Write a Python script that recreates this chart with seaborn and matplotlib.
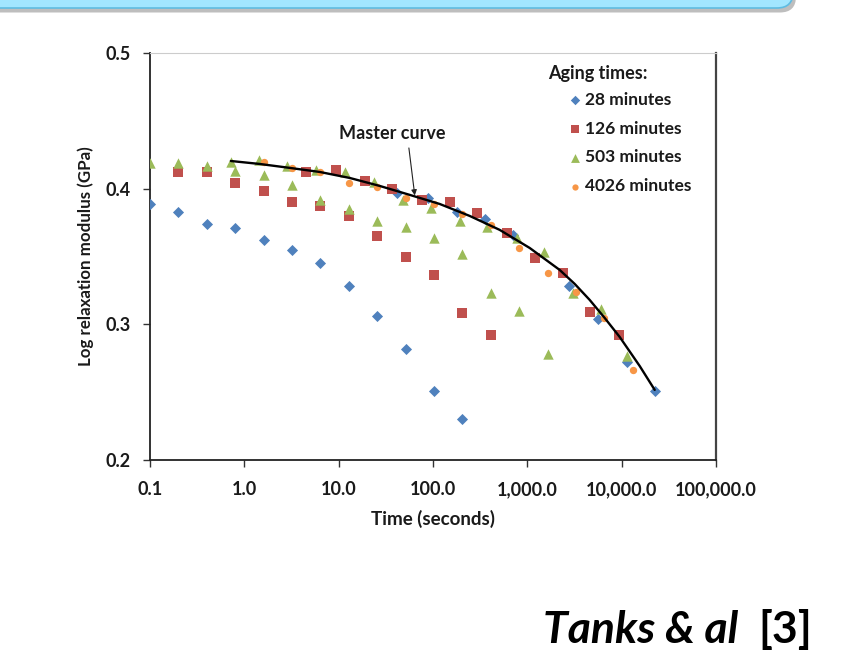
import numpy as np
import pandas as pd
import matplotlib
matplotlib.use("Agg")
import matplotlib.pyplot as plt
import seaborn as sns
from matplotlib.patches import FancyBboxPatch
from matplotlib.ticker import FixedLocator, FixedFormatter, NullLocator

sns.set_theme(style="white")
plt.rcParams['font.family'] = ['Lato', 'DejaVu Sans']

# ---------------- data ----------------
series_names = ["28 minutes", "126 minutes", "503 minutes", "4026 minutes"]

# 28 minutes: measured curve + shifted points on master curve
t28 = [0.1, 0.2, 0.4, 0.8, 1.6, 3.2, 6.4, 12.8, 25.6, 51.2, 102.4, 204.8,
       41.4, 88.1, 179, 354, 700, 2747, 5568, 11300, 22370]
g28 = [0.389, 0.383, 0.374, 0.371, 0.362, 0.355, 0.345, 0.328, 0.306, 0.282, 0.251, 0.230,
       0.397, 0.393, 0.383, 0.378, 0.366, 0.328, 0.304, 0.272, 0.251]

# 126 minutes
t126 = [0.2, 0.4, 0.8, 1.6, 3.2, 6.4, 12.8, 25.6, 51.2, 102.4, 204.8, 409.6,
        4.5, 9.33, 19.0, 36.6, 76.1, 151, 291, 605, 1197, 2371, 4581, 9290]
g126 = [0.412, 0.412, 0.404, 0.398, 0.390, 0.387, 0.380, 0.365, 0.350, 0.336, 0.308, 0.292,
        0.412, 0.414, 0.406, 0.400, 0.392, 0.390, 0.382, 0.367, 0.349, 0.338, 0.309, 0.292]

# 503 minutes
t503 = [0.1, 0.2, 0.4, 0.8, 1.6, 3.2, 6.4, 12.8, 25.6, 51.2, 102.4, 204.8, 409.6, 819.2, 1638.4,
        0.72, 1.43, 2.83, 5.73, 11.6, 23.6, 47.9, 94.8, 192, 372, 773, 1493, 3027, 5998, 11300]
g503 = [0.419, 0.419, 0.417, 0.413, 0.410, 0.403, 0.392, 0.385, 0.376, 0.372, 0.364, 0.352, 0.323, 0.310, 0.278,
        0.420, 0.421, 0.417, 0.414, 0.412, 0.405, 0.392, 0.386, 0.376, 0.372, 0.364, 0.353, 0.323, 0.311, 0.277]

# 4026 minutes (reference curve)
t4026 = [1.6, 3.2, 6.4, 12.8, 25.6, 51.2, 102.4, 204.8, 409.6, 819.2, 1638.4, 3276.8, 6553.6, 13107.2]
g4026 = [0.420, 0.415, 0.412, 0.404, 0.401, 0.393, 0.389, 0.381, 0.373, 0.356, 0.338, 0.324, 0.305, 0.266]

# master curve
t_master = [0.72, 1.46, 3.04, 6.32, 13.1, 27.3, 56.8, 118, 245, 510, 1059, 2203,
            3177, 4581, 6607, 9527, 15520, 22390]
g_master = [0.4204, 0.4182, 0.4153, 0.4123, 0.4079, 0.4020, 0.3954, 0.3887, 0.3799,
            0.3696, 0.3563, 0.3401, 0.3298, 0.3180, 0.3047, 0.2907, 0.2693, 0.2517]

x_ticks = [0.1, 1, 10, 100, 1000, 10000, 100000]
x_tick_labels = ["0.1", "1.0", "10.0", "100.0", "1,000.0", "10,000.0", "100,000.0"]
y_ticks = [0.2, 0.3, 0.4, 0.5]
y_tick_labels = ["0.2", "0.3", "0.4", "0.5"]

colors = {"28 minutes": "#4F81BD", "126 minutes": "#C0504D",
          "503 minutes": "#9BBB59", "4026 minutes": "#F79646"}
markers = {"28 minutes": "D", "126 minutes": "s", "503 minutes": "^", "4026 minutes": "o"}
sizes = {"28 minutes": 32, "126 minutes": 50, "503 minutes": 56, "4026 minutes": 28}

frames = []
for name, t, g in [("28 minutes", t28, g28), ("126 minutes", t126, g126),
                   ("503 minutes", t503, g503), ("4026 minutes", t4026, g4026)]:
    frames.append(pd.DataFrame({"time": t, "modulus": g, "series": name}))
df = pd.concat(frames, ignore_index=True)
master = pd.DataFrame({"time": t_master, "modulus": g_master})

# ---------------- figure ----------------
W, H = 861, 667
fig = plt.figure(figsize=(W / 100, H / 100), dpi=100)
fig.patch.set_facecolor("white")

# slide title box (cut off at top)
shadow = FancyBboxPatch((-0.3 + 0.03, 6.59 - 0.045), 8.23, 1.0,
                        boxstyle="round,pad=0,rounding_size=0.16",
                        transform=fig.dpi_scale_trans, facecolor="#8a8a8a",
                        edgecolor="none", alpha=0.55, zorder=0)
box = FancyBboxPatch((-0.3, 6.59), 8.23, 1.0,
                     boxstyle="round,pad=0,rounding_size=0.16",
                     transform=fig.dpi_scale_trans, facecolor="#A2E6FF",
                     edgecolor="#5FBCE2", linewidth=1.2, zorder=1)
fig.patches.extend([shadow, box])

ax = fig.add_axes([150 / W, 1 - 460 / H, (716 - 150) / W, (460 - 53) / H])
ax.set_facecolor("white")

# master curve
sns.lineplot(data=master, x="time", y="modulus", color="black", lw=1.7,
             ax=ax, zorder=4, estimator=None, sort=False)

for name in series_names:
    sub = df[df["series"] == name]
    sns.scatterplot(data=sub, x="time", y="modulus", marker=markers[name],
                    color=colors[name], s=sizes[name], linewidth=0, ax=ax,
                    zorder=3, label=name)

ax.set_xscale("log")
ax.set_xlim(0.1, 100000)
ax.set_ylim(0.2, 0.5)
ax.xaxis.set_major_locator(FixedLocator(x_ticks))
ax.xaxis.set_major_formatter(FixedFormatter(x_tick_labels))
ax.xaxis.set_minor_locator(NullLocator())
ax.yaxis.set_major_locator(FixedLocator(y_ticks))
ax.yaxis.set_major_formatter(FixedFormatter(y_tick_labels))

for lab in ax.get_xticklabels() + ax.get_yticklabels():
    lab.set_fontsize(13)
    lab.set_fontweight("bold")
    lab.set_color("#1a1a1a")
ax.tick_params(axis="x", which="major", direction="out", length=5,
               width=1.0, color="#333333", pad=10, bottom=True)
ax.tick_params(axis="y", which="major", direction="out", length=5,
               width=1.0, color="#333333", pad=9, left=True)

for side in ["left", "bottom"]:
    ax.spines[side].set_color("#222222")
    ax.spines[side].set_linewidth(1.3)
ax.spines["right"].set_color("#444444")
ax.spines["right"].set_linewidth(1.6)
ax.spines["top"].set_color("#cccccc")
ax.spines["top"].set_linewidth(0.8)

ax.set_xlabel("Time (seconds)", fontsize=13.5, fontweight="bold", color="#1a1a1a", labelpad=9)
ax.set_ylabel("Log relaxation modulus (GPa)", fontsize=12.2, fontweight="bold",
              color="#1a1a1a", labelpad=8)

# annotation
ax.text(36.6, 0.441, "Master curve", fontsize=13, fontweight="bold",
        color="#1a1a1a", ha="center", va="center")
ax.annotate("", xy=(64.1, 0.3950), xytext=(55.5, 0.4300),
            arrowprops=dict(arrowstyle="-|>", color="#222222", lw=0.8,
                            mutation_scale=8, shrinkA=0, shrinkB=0))

# legend
leg = ax.legend(loc="upper left", bbox_to_anchor=(559 / W, 1 - 83 / H),
                bbox_transform=fig.transFigure, frameon=False,
                fontsize=12.5, handletextpad=0.1, labelspacing=0.74,
                handlelength=0.9, borderpad=0, markerscale=0.85)
for txt in leg.get_texts():
    txt.set_fontweight("bold")
    txt.set_color("#1a1a1a")
fig.text(548 / W, 1 - 73 / H, "Aging times:", fontsize=13, fontweight="bold",
         color="#1a1a1a", ha="left", va="center")

# citation
fig.text(543 / W, 1 - 643 / H, "Tanks & al", fontsize=32, fontweight="bold",
         fontstyle="italic", color="black", ha="left", va="baseline")
fig.text(758 / W, 1 - 643 / H, "[3]", fontsize=32, fontweight="bold",
         color="black", ha="left", va="baseline")

fig.savefig("out.png", dpi=100, facecolor="white")
